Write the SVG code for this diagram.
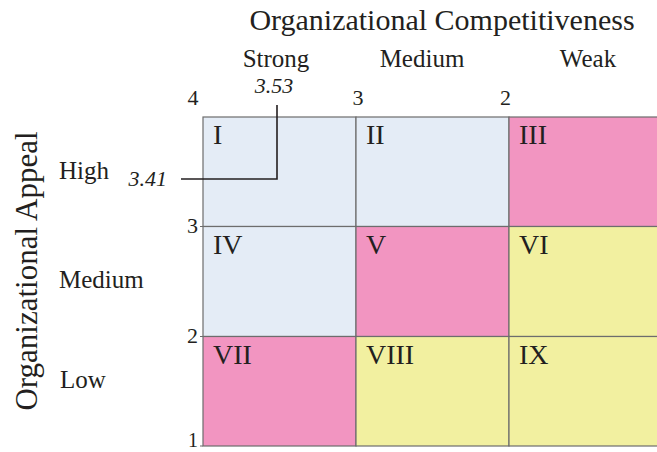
<svg xmlns="http://www.w3.org/2000/svg" width="657" height="452" viewBox="0 0 657 452">
<style>
text{font-family:"Liberation Serif","Times New Roman",serif;fill:#231f20}
.t{font-size:30px}
.s{font-size:25px}
.n{font-size:22px}
.i{font-size:22px;font-style:italic}
.r{font-size:28px}
.cell{stroke:#6d6d6d;stroke-width:1.2}
.b{fill:#e4ecf6}
.p{fill:#f295c1}
.y{fill:#f2f0a0}
.lead{fill:none;stroke:#231f20;stroke-width:1.6}
</style>
<rect width="657" height="452" fill="#fff"/>
<text class="t" x="442" y="30" text-anchor="middle">Organizational Competitiveness</text>
<text class="s" x="276" y="66.5" text-anchor="middle">Strong</text>
<text class="s" x="422" y="66.5" text-anchor="middle">Medium</text>
<text class="s" x="588" y="66.5" text-anchor="middle">Weak</text>
<text class="t" transform="translate(37,271) rotate(-90)" text-anchor="middle" style="font-size:31px">Organizational Appeal</text>
<text class="s" x="59" y="179">High</text>
<text class="s" x="59" y="288">Medium</text>
<text class="s" x="60" y="388">Low</text>
<g id="axis-numbers">
<text class="n" x="193" y="105" text-anchor="middle">4</text>
<text class="n" x="358" y="105" text-anchor="middle">3</text>
<text class="n" x="505.5" y="105" text-anchor="middle">2</text>
<text class="n" x="198" y="233" text-anchor="end">3</text>
<text class="n" x="198" y="343" text-anchor="end">2</text>
<text class="n" x="198" y="447" text-anchor="end" style="font-size:20px">1</text>
</g>
<g id="cell-I"><rect class="cell b" x="203" y="117" width="153" height="109.5"/><text class="r" x="213" y="144">I</text></g>
<g id="cell-II"><rect class="cell b" x="356" y="117" width="153" height="109.5"/><text class="r" x="366" y="144">II</text></g>
<g id="cell-III"><rect class="cell p" x="509" y="117" width="153" height="109.5"/><text class="r" x="519" y="144">III</text></g>
<g id="cell-IV"><rect class="cell b" x="203" y="226.5" width="153" height="110"/><text class="r" x="213" y="253.5">IV</text></g>
<g id="cell-V"><rect class="cell p" x="356" y="226.5" width="153" height="110"/><text class="r" x="366" y="253.5">V</text></g>
<g id="cell-VI"><rect class="cell y" x="509" y="226.5" width="153" height="110"/><text class="r" x="519" y="253.5">VI</text></g>
<g id="cell-VII"><rect class="cell p" x="203" y="336.5" width="153" height="109.5"/><text class="r" x="213" y="363.5">VII</text></g>
<g id="cell-VIII"><rect class="cell y" x="356" y="336.5" width="153" height="109.5"/><text class="r" x="366" y="363.5">VIII</text></g>
<g id="cell-IX"><rect class="cell y" x="509" y="336.5" width="153" height="109.5"/><text class="r" x="519" y="363.5">IX</text></g>
<g id="connectors">
<path class="cell" d="M200 226.5H203M200 336.5H203M200 446H203" fill="none"/>
<polyline class="lead" points="181,179 277,179 277,105"/>
</g>
<text class="i" x="274" y="93" text-anchor="middle">3.53</text>
<text class="i" x="167" y="186" text-anchor="end">3.41</text>
</svg>
